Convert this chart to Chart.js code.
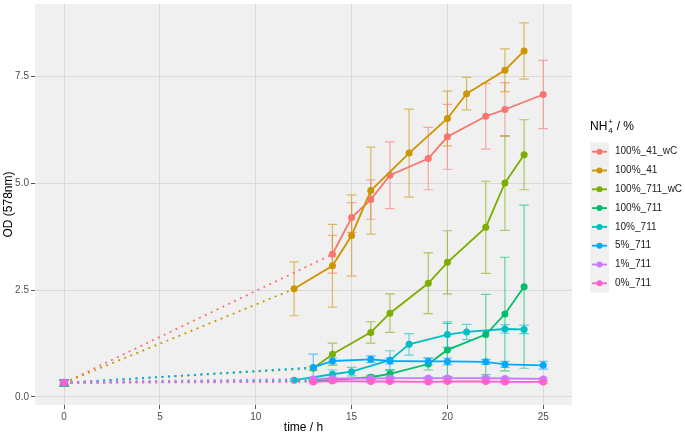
<!DOCTYPE html>
<html>
<head>
<meta charset="utf-8">
<script src="https://cdn.jsdelivr.net/npm/chart.js@4"></script>
<style>
  html, body { margin: 0; padding: 0; background: #fff; }
</style>
</head>
<body>
<canvas id="odChart" width="685" height="436"></canvas>
<script>
// series names (legend order)
const seriesNames = ['100%_41_wC', '100%_41', '100%_711_wC', '100%_711', '10%_711', '5%_711', '1%_711', '0%_711'];
const seriesColors = ['#F8766D', '#CD9600', '#7CAE00', '#00BE67', '#00BFC4', '#00A9FF', '#C77CFF', '#FF61CC'];

// time points (h), mean OD and standard deviation for each series
const time41wC = [0, 14, 15, 16, 17, 19, 20, 22, 23, 25];
const od41wC   = [0.33, 3.34, 4.20, 4.62, 5.19, 5.58, 6.09, 6.57, 6.73, 7.08];
const sd41wC   = [0.07, 0.44, 0.35, 0.46, 0.78, 0.73, 0.76, 0.77, 0.63, 0.80];

const time41 = [0, 12, 14, 15, 16, 18, 20, 21, 23, 24];
const od41   = [0.33, 2.53, 3.07, 3.78, 4.83, 5.71, 6.52, 7.10, 7.65, 8.10];
const sd41   = [0.07, 0.63, 0.97, 0.95, 1.02, 1.03, 0.64, 0.38, 0.50, 0.66];

const time711wC = [0, 13, 14, 16, 17, 19, 20, 22, 23, 24];
const od711wC   = [0.33, 0.67, 1.00, 1.51, 1.96, 2.66, 3.15, 3.97, 5.01, 5.67];
const sd711wC   = [0.07, 0.05, 0.26, 0.25, 0.45, 0.71, 0.74, 1.08, 1.11, 0.82];

const time711 = [0, 13, 14, 16, 17, 19, 20, 22, 23, 24];
const od711   = [0.33, 0.38, 0.40, 0.46, 0.54, 0.77, 1.10, 1.46, 1.94, 2.58];
const sd711   = [0.07, 0.03, 0.04, 0.05, 0.08, 0.14, 0.62, 0.94, 1.33, 1.91];

const time10 = [0, 12, 14, 15, 17, 18, 20, 21, 23, 24];
const od10   = [0.33, 0.39, 0.53, 0.59, 0.86, 1.23, 1.46, 1.52, 1.59, 1.58];
const sd10   = [0.07, 0.03, 0.10, 0.10, 0.22, 0.25, 0.30, 0.18, 0.10, 0.10];

const time5 = [0, 13, 14, 16, 17, 19, 20, 22, 23, 25];
const od5   = [0.33, 0.69, 0.84, 0.88, 0.84, 0.83, 0.83, 0.82, 0.76, 0.74];
const sd5   = [0.07, 0.31, 0.07, 0.08, 0.07, 0.08, 0.08, 0.06, 0.07, 0.09];

const time1 = [0, 13, 14, 16, 17, 19, 20, 22, 23, 25];
const od1   = [0.35, 0.42, 0.43, 0.43, 0.44, 0.44, 0.44, 0.44, 0.43, 0.42];
const sd1   = [0.04, 0.03, 0.03, 0.03, 0.03, 0.03, 0.03, 0.03, 0.03, 0.03];

const time0 = [0, 13, 14, 16, 17, 19, 20, 22, 23, 25];
const od0   = [0.33, 0.35, 0.37, 0.36, 0.36, 0.35, 0.36, 0.36, 0.35, 0.35];
const sd0   = [0.04, 0.03, 0.03, 0.03, 0.03, 0.03, 0.03, 0.03, 0.03, 0.03];

const seriesTimes = [time41wC, time41, time711wC, time711, time10, time5, time1, time0];
const seriesOD    = [od41wC, od41, od711wC, od711, od10, od5, od1, od0];
const seriesSD    = [sd41wC, sd41, sd711wC, sd711, sd10, sd5, sd1, sd0];

const xTicks = [0, 5, 10, 15, 20, 25];
const yTicks = [0, 2.5, 5, 7.5];

const FONT = '"Liberation Sans", Arial, sans-serif';

function withAlpha(hex, a) {
  const n = parseInt(hex.slice(1), 16);
  return 'rgba(' + ((n >> 16) & 255) + ',' + ((n >> 8) & 255) + ',' + (n & 255) + ',' + a + ')';
}

// grey panel behind the plot
const panelBg = {
  id: 'panelBg',
  beforeDraw(chart) {
    const { ctx, chartArea: a } = chart;
    ctx.save();
    ctx.fillStyle = '#F0F0F0';
    ctx.fillRect(a.left, a.top, a.right - a.left, a.bottom - a.top);
    ctx.restore();
  }
};

// error bars from the sd arrays
const errorBars = {
  id: 'errorBars',
  beforeDatasetsDraw(chart) {
    const { ctx, scales: { x, y } } = chart;
    ctx.save();
    ctx.lineWidth = 1.2;
    for (let s = 0; s < seriesTimes.length; s++) {
      ctx.strokeStyle = withAlpha(seriesColors[s], 0.6);
      seriesTimes[s].forEach((t, i) => {
        const m = seriesOD[s][i], d = seriesSD[s][i];
        const px = x.getPixelForValue(t);
        const x1 = x.getPixelForValue(t - 0.25), x2 = x.getPixelForValue(t + 0.25);
        const yTop = y.getPixelForValue(m + d), yBot = y.getPixelForValue(m - d);
        ctx.beginPath();
        ctx.moveTo(px, yTop); ctx.lineTo(px, yBot);
        ctx.moveTo(x1, yTop); ctx.lineTo(x2, yTop);
        ctx.moveTo(x1, yBot); ctx.lineTo(x2, yBot);
        ctx.stroke();
      });
    }
    ctx.restore();
  }
};

// legend on the right, ggplot style
const ggLegend = {
  id: 'ggLegend',
  afterDraw(chart) {
    const ctx = chart.ctx;
    const x0 = 590, y0 = 142.3, rowH = 18.8, keyW = 19;
    ctx.save();
    ctx.fillStyle = '#000';
    ctx.textBaseline = 'middle';
    ctx.font = '12px ' + FONT;
    ctx.fillText('NH', x0, 127);
    const w = ctx.measureText('NH').width;
    ctx.font = '8px ' + FONT;
    ctx.fillText('+', x0 + w + 1, 122);
    ctx.fillText('4', x0 + w + 1, 131);
    ctx.font = '12px ' + FONT;
    ctx.fillText(' / %', x0 + w + 6, 127);

    ctx.fillStyle = '#F0F0F0';
    ctx.fillRect(x0, y0, keyW, rowH * seriesNames.length);
    seriesNames.forEach((name, i) => {
      const cy = y0 + rowH * (i + 0.5);
      ctx.strokeStyle = seriesColors[i];
      ctx.lineWidth = 1.8;
      ctx.beginPath();
      ctx.moveTo(x0 + 2, cy); ctx.lineTo(x0 + keyW - 2, cy);
      ctx.stroke();
      ctx.fillStyle = seriesColors[i];
      ctx.beginPath();
      ctx.arc(x0 + keyW / 2, cy, 3, 0, Math.PI * 2);
      ctx.fill();
      ctx.fillStyle = '#1A1A1A';
      ctx.font = '10px ' + FONT;
      ctx.fillText(name, 615, cy);
    });
    ctx.restore();
  }
};

const datasets = seriesNames.map((name, s) => ({
  label: name,
  data: seriesTimes[s].map((t, i) => ({ x: t, y: seriesOD[s][i] })),
  borderColor: seriesColors[s],
  backgroundColor: seriesColors[s],
  borderWidth: 1.8,
  pointRadius: 3.5,
  pointBorderWidth: 0,
  pointBackgroundColor: seriesColors[s],
  order: seriesNames.length - s,
  segment: {
    borderDash: c => (c.p0.parsed.x === 0 ? [2, 4.5] : undefined)
  }
}));

new Chart(document.getElementById('odChart'), {
  type: 'line',
  data: { datasets },
  plugins: [panelBg, errorBars, ggLegend],
  options: {
    responsive: false,
    devicePixelRatio: 1,
    animation: false,
    events: [],
    layout: { padding: { top: 2, right: 113, left: 0, bottom: 0 } },
    plugins: { legend: { display: false }, tooltip: { enabled: false } },
    scales: {
      x: {
        type: 'linear',
        min: -1.52,
        max: 26.5,
        afterBuildTicks: sc => { sc.ticks = xTicks.map(v => ({ value: v })); },
        afterFit: sc => { sc.height = 31; sc.paddingLeft = 0; sc.paddingRight = 0; },
        grid: { color: '#D9D9D9', lineWidth: 1, tickLength: 4, tickColor: '#555' },
        border: { display: false },
        ticks: { color: '#4D4D4D', font: { family: FONT, size: 10 }, padding: 2, maxRotation: 0 },
        title: { display: true, text: 'time / h', color: '#000', font: { family: FONT, size: 12 }, padding: { top: 0, bottom: 1 } }
      },
      y: {
        min: -0.19,
        max: 9.2,
        afterBuildTicks: sc => { sc.ticks = yTicks.map(v => ({ value: v })); },
        afterFit: sc => { sc.width = 35; sc.paddingTop = 0; sc.paddingBottom = 0; },
        grid: { color: '#D9D9D9', lineWidth: 1, tickLength: 4, tickColor: '#555' },
        border: { display: false },
        ticks: { color: '#4D4D4D', font: { family: FONT, size: 10 }, padding: 2, callback: v => v.toFixed(1) },
        title: { display: true, text: 'OD (578nm)', color: '#000', font: { family: FONT, size: 12 }, padding: { top: 1, bottom: 0 } }
      }
    }
  }
});
</script>
</body>
</html>
